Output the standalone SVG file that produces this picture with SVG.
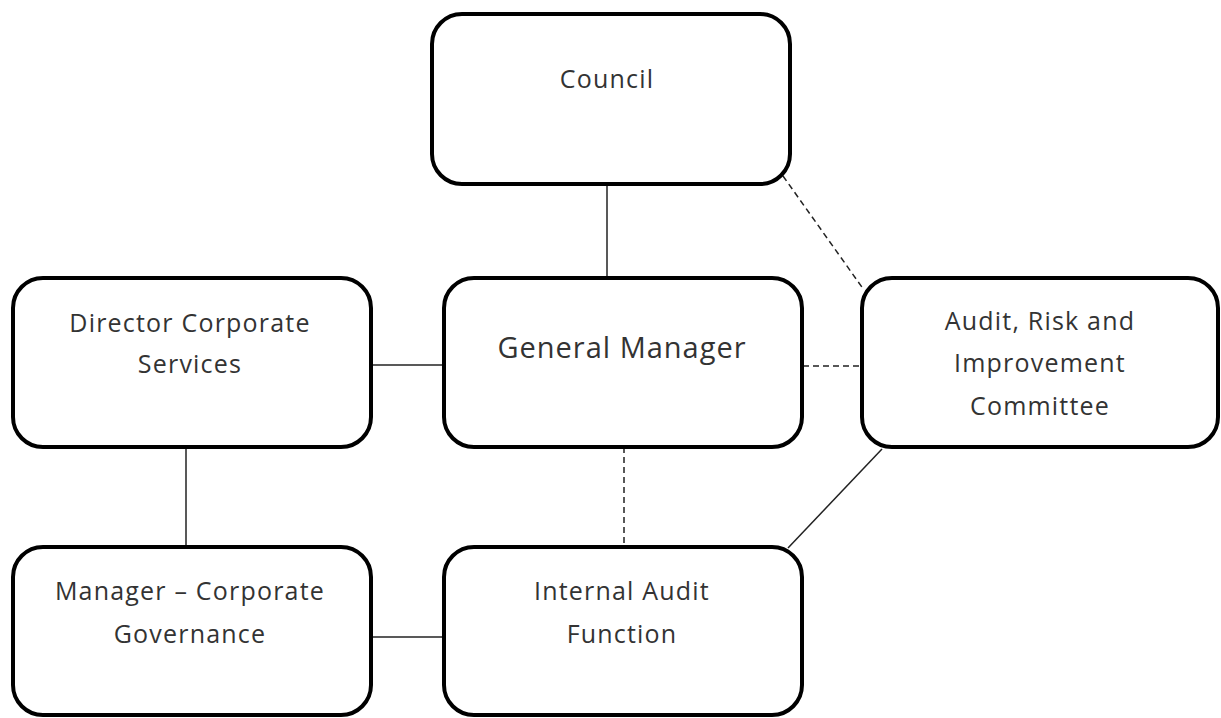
<svg xmlns="http://www.w3.org/2000/svg" width="1221" height="718" viewBox="0 0 1221 718">
<style>
.box{fill:#fff;stroke:#000;stroke-width:4}
.t{font-family:"Open Sans","Noto Sans",sans-serif;font-size:25px;letter-spacing:1.2px;fill:#333;text-anchor:middle}
.big{font-size:29px;letter-spacing:1px}
.c{stroke:#222;stroke-width:1.5;fill:none}
.d{stroke-dasharray:6,4}
</style>
<rect width="1221" height="718" fill="#fff"/>
<g id="connectors">
<line class="c" x1="607" y1="185" x2="607" y2="277"/>
<line class="c d" x1="783" y1="176" x2="864" y2="290"/>
<line class="c" x1="372" y1="365" x2="443" y2="365"/>
<line class="c d" x1="803" y1="366" x2="862" y2="366"/>
<line class="c" x1="186" y1="448" x2="186" y2="546"/>
<line class="c d" x1="624" y1="447" x2="624" y2="546"/>
<line class="c" x1="882" y1="449" x2="788" y2="548"/>
<line class="c" x1="372" y1="637" x2="443" y2="637"/>
</g>
<g id="council"><rect class="box" x="432" y="14" width="358" height="170" rx="30"/><text class="t" x="607" y="88">Council</text></g>
<g id="director"><rect class="box" x="13" y="278" width="358" height="169" rx="30"/><text class="t" x="190" y="332">Director Corporate</text><text class="t" x="190" y="373">Services</text></g>
<g id="gm"><rect class="box" x="444" y="278" width="358" height="169" rx="30"/><text class="t big" x="622" y="358">General Manager</text></g>
<g id="aric"><rect class="box" x="862" y="278" width="356" height="169" rx="30"/><text class="t" x="1040" y="330">Audit, Risk and</text><text class="t" x="1040" y="372">Improvement</text><text class="t" x="1040" y="415">Committee</text></g>
<g id="mcg"><rect class="box" x="13" y="547" width="358" height="168" rx="30"/><text class="t" x="190" y="600">Manager – Corporate</text><text class="t" x="190" y="643">Governance</text></g>
<g id="iaf"><rect class="box" x="444" y="547" width="358" height="168" rx="30"/><text class="t" x="622" y="600">Internal Audit</text><text class="t" x="622" y="643">Function</text></g>
</svg>
